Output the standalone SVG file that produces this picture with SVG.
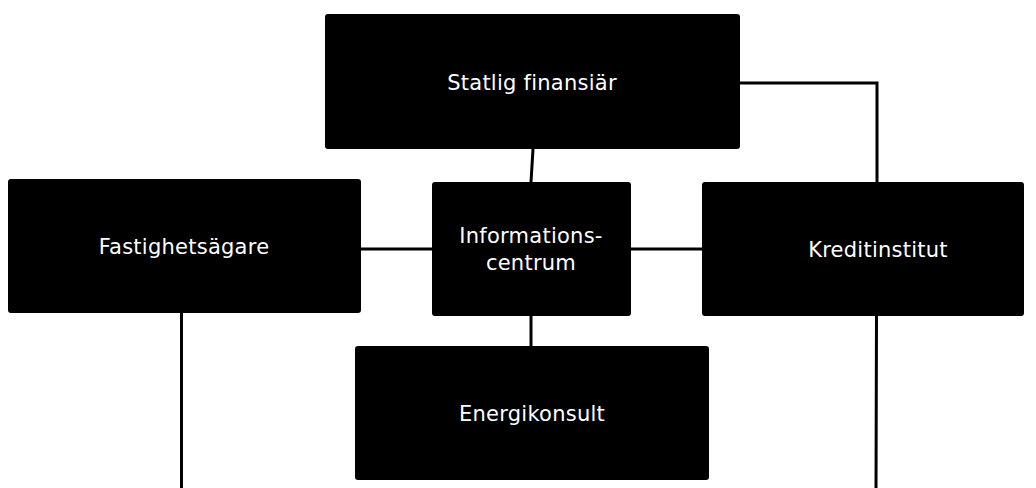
<svg xmlns="http://www.w3.org/2000/svg" width="1036" height="488" viewBox="0 0 1036 488">
  <style>
    .box { fill: #000; }
    .lbl { fill: #fff; font-family: "DejaVu Sans", Verdana, sans-serif; font-size: 21px; letter-spacing: 0.25px; text-anchor: middle; }
    .wire { stroke: #000; stroke-width: 3; fill: none; stroke-linecap: square; }
  </style>
  <rect width="1036" height="488" fill="#fff"/>

  <!-- links between the actors -->
  <g id="connectors">
    <line class="wire" x1="533" y1="149" x2="531" y2="182"/>
    <line class="wire" x1="361" y1="249" x2="432" y2="249"/>
    <line class="wire" x1="631" y1="249" x2="702" y2="249"/>
    <line class="wire" x1="531" y1="316" x2="531" y2="346"/>
    <polyline class="wire" points="740,83 877,83 877,182"/>
    <line class="wire" x1="181.5" y1="313" x2="181.5" y2="490"/>
    <line class="wire" x1="876.5" y1="316" x2="876" y2="490"/>
  </g>

  <g id="statlig-finansiar">
    <rect class="box" x="325" y="14" width="415" height="135" rx="3"/>
    <text class="lbl" x="532" y="90">Statlig finansiär</text>
  </g>

  <g id="fastighetsagare">
    <rect class="box" x="8" y="179" width="353" height="134" rx="3"/>
    <text class="lbl" x="184" y="254">Fastighetsägare</text>
  </g>

  <g id="informationscentrum">
    <rect class="box" x="432" y="182" width="199" height="134" rx="3"/>
    <text class="lbl" x="531" y="243">Informations-</text>
    <text class="lbl" x="531" y="270">centrum</text>
  </g>

  <g id="kreditinstitut">
    <rect class="box" x="702" y="182" width="322" height="134" rx="3"/>
    <text class="lbl" x="878" y="257">Kreditinstitut</text>
  </g>

  <g id="energikonsult">
    <rect class="box" x="355" y="346" width="354" height="134" rx="3"/>
    <text class="lbl" x="532" y="421">Energikonsult</text>
  </g>
</svg>
